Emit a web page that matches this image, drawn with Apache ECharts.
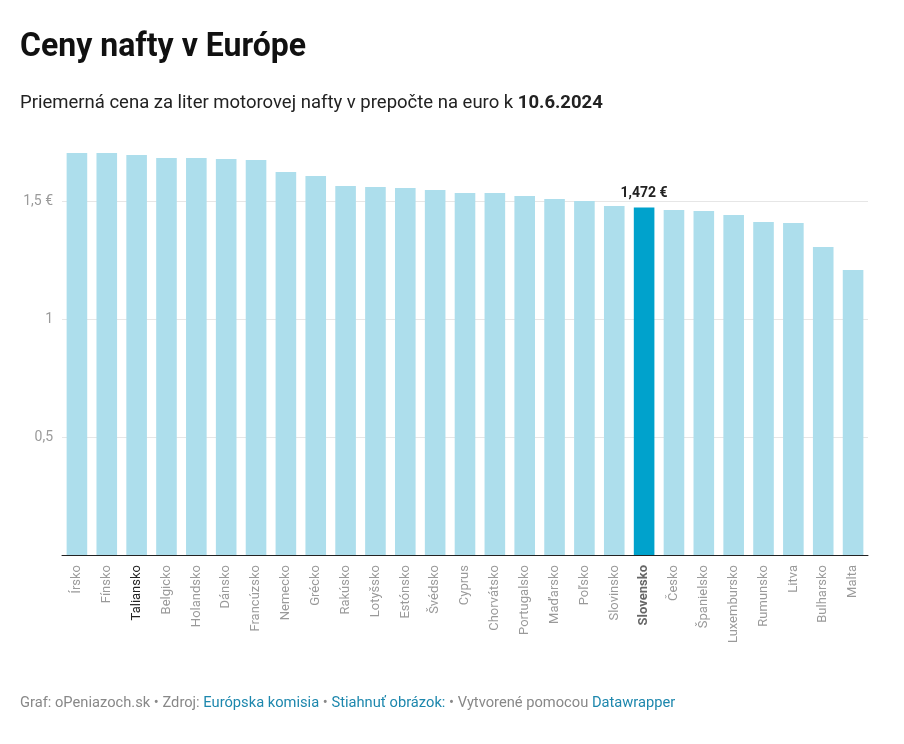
<!DOCTYPE html>
<html>
<head>
<meta charset="utf-8">
<script src="https://cdn.jsdelivr.net/npm/echarts@6/dist/echarts.min.js"></script>
<style>
html,body{margin:0;padding:0;background:#fff;}
#chart{width:904px;height:744px;}
</style>
</head>
<body>
<div id="chart"></div>
<script>
const categories = ["Írsko","Fínsko","Taliansko","Belgicko","Holandsko","Dánsko","Francúzsko","Nemecko","Grécko","Rakúsko","Lotyšsko","Estónsko","Švédsko","Cyprus","Chorvátsko","Portugalsko","Maďarsko","Poľsko","Slovinsko","Slovensko","Česko","Španielsko","Luxembursko","Rumunsko","Litva","Bulharsko","Malta"];
const prices = [1.703,1.703,1.695,1.682,1.682,1.678,1.674,1.623,1.606,1.564,1.559,1.555,1.547,1.534,1.534,1.521,1.508,1.500,1.479,1.472,1.462,1.458,1.441,1.411,1.407,1.305,1.208];
const highlight = "Slovensko";
const blackLabel = "Taliansko";
const yTicks = [0, 0.5, 1, 1.5];
const yTickLabels = ["", "0,5", "1", "1,5 €"];

const LIGHT = "#addeec";
const DARK = "#00a2cc";

const chart = echarts.init(document.getElementById('chart'), null, {renderer:'canvas'});

const data = prices.map((v,i)=>{
  const item = {value:v};
  if (categories[i] === highlight) {
    item.itemStyle = {color: DARK};
    item.label = {show:true, position:'top', distance:7, formatter: p => p.value.toFixed(3).replace('.', ',') + ' €',
      fontFamily:'Roboto', fontWeight:'bold', fontSize:14, color:'#222'};
  }
  return item;
});

chart.setOption({
  animation:false,
  backgroundColor:'#fff',
  graphic:[{
    type:'text', left:20, top:31, scaleX:0.97, originX:0,
    style:{text:'Ceny nafty v Európe', font:'bold 33px Roboto', fill:'#111'}
  }],
  title:[{
    text:'Priemerná cena za liter motorovej nafty v prepočte na euro k {b|10.6.2024}',
    left:20, top:94, padding:0,
    textStyle:{fontFamily:'Roboto', fontWeight:'normal', fontSize:18.5, color:'#222',
      rich:{b:{fontFamily:'Roboto', fontWeight:'bold', fontSize:18.5, color:'#222'}}}
  },{
    text:'Graf: oPeniazoch.sk • Zdroj: {a|Európska komisia} • {a|Stiahnuť obrázok:} • Vytvorené pomocou {a|Datawrapper}',
    left:20, top:696, padding:0,
    textStyle:{fontFamily:'Roboto', fontSize:14.7, color:'#888', fontWeight:'normal',
      rich:{a:{fontFamily:'Roboto', fontSize:14.7, color:'#1d87ad'}}}
  }],
  grid:{left:62, right:36, top:142, bottom:189, containLabel:false},
  xAxis:{
    type:'category', data:categories,
    axisLine:{show:true, lineStyle:{color:'#222', width:1}},
    axisTick:{show:false},
    axisLabel:{
      rotate:90, interval:0, margin:10, fontFamily:'Roboto', fontSize:13, color:'#9a9a9a',
      formatter: v => v === highlight ? '{h|'+v+'}' : (v === blackLabel ? '{k|'+v+'}' : v),
      rich:{
        h:{fontFamily:'Roboto', fontSize:13, fontWeight:'bold', color:'#666'},
        k:{fontFamily:'Roboto', fontSize:13, color:'#222'}
      }
    }
  },
  yAxis:{
    type:'value', min:0, max:1.75, interval:0.5,
    axisLine:{show:false}, axisTick:{show:false},
    axisLabel:{margin:9, fontFamily:'Roboto', fontSize:14, color:'#9a9a9a',
      formatter: v => { const i = yTicks.indexOf(v); return i >= 0 ? yTickLabels[i] : ''; }},
    splitLine:{show:true, lineStyle:{color:['#e6e6e6','#e6e6e6','#e6e6e6','#e6e6e6','rgba(0,0,0,0)'], width:1}}
  },
  series:[{
    type:'bar', data:data, barCategoryGap:'31%',
    itemStyle:{color:LIGHT},
    label:{show:false}
  }]
});
</script>
</body>
</html>
